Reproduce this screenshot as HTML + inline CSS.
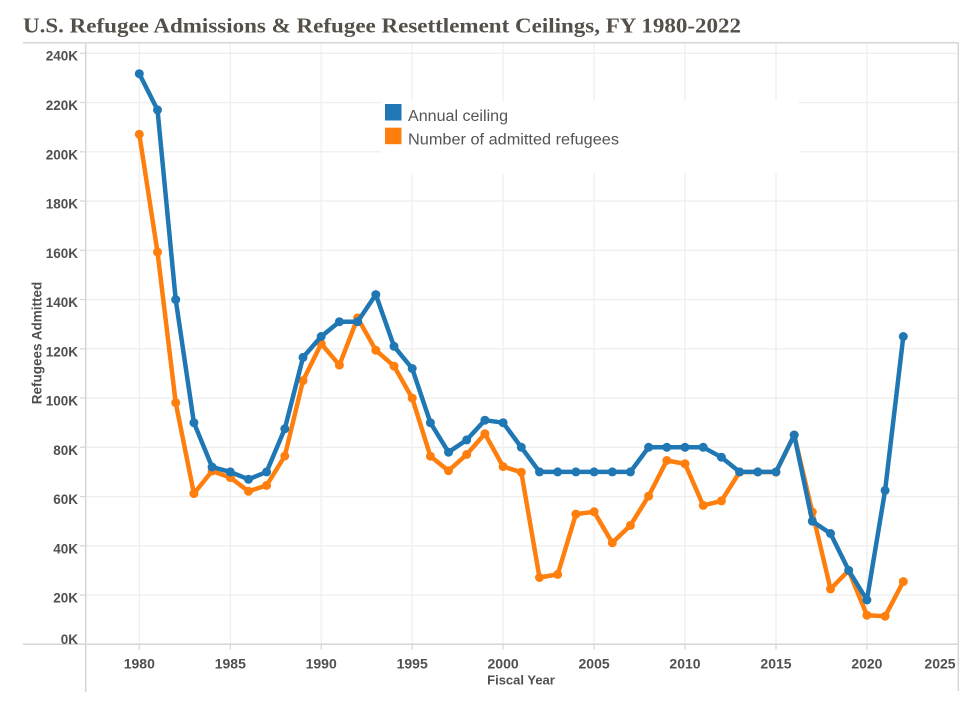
<!DOCTYPE html>
<html>
<head>
<meta charset="utf-8">
<style>
  html, body { margin:0; padding:0; background:#ffffff; }
  body { width:976px; height:701px; overflow:hidden; }
  svg { display:block; }
  .yl { font-family:"Liberation Sans", sans-serif; font-weight:bold; font-size:13.5px; fill:#505050; text-anchor:end; }
  .xl { font-family:"Liberation Sans", sans-serif; font-weight:bold; font-size:14px; fill:#505050; text-anchor:middle; }
  .lg { font-family:"Liberation Sans", sans-serif; font-size:15.5px; fill:#555555; }
</style>
</head>
<body>
<svg width="976" height="701" viewBox="0 0 976 701" xmlns="http://www.w3.org/2000/svg">
  <rect x="0" y="0" width="976" height="701" fill="#ffffff"/>

  <!-- Title -->
  <text x="23" y="32.3" font-family="'Liberation Serif', serif" font-weight="bold" font-size="21" fill="#555049" textLength="718" lengthAdjust="spacingAndGlyphs">U.S. Refugee Admissions &amp; Refugee Resettlement Ceilings, FY 1980-2022</text>

  <!-- horizontal gridlines -->
  <g stroke="#efefef" stroke-width="1.3">
    <line x1="86" y1="53.3" x2="958" y2="53.3"/>
    <line x1="86" y1="102.55" x2="958" y2="102.55"/>
    <line x1="86" y1="151.8" x2="958" y2="151.8"/>
    <line x1="86" y1="201.05" x2="958" y2="201.05"/>
    <line x1="86" y1="250.3" x2="958" y2="250.3"/>
    <line x1="86" y1="299.55" x2="958" y2="299.55"/>
    <line x1="86" y1="348.8" x2="958" y2="348.8"/>
    <line x1="86" y1="398.05" x2="958" y2="398.05"/>
    <line x1="86" y1="447.3" x2="958" y2="447.3"/>
    <line x1="86" y1="496.55" x2="958" y2="496.55"/>
    <line x1="86" y1="545.8" x2="958" y2="545.8"/>
    <line x1="86" y1="595.05" x2="958" y2="595.05"/>
  </g>
  <!-- vertical gridlines -->
  <g stroke="#efefef" stroke-width="1.3">
    <line x1="139.3" y1="43" x2="139.3" y2="644"/>
    <line x1="230.3" y1="43" x2="230.3" y2="644"/>
    <line x1="321.2" y1="43" x2="321.2" y2="644"/>
    <line x1="412.2" y1="43" x2="412.2" y2="644"/>
    <line x1="503.1" y1="43" x2="503.1" y2="644"/>
    <line x1="594.1" y1="43" x2="594.1" y2="644"/>
    <line x1="685.0" y1="43" x2="685.0" y2="644"/>
    <line x1="776.0" y1="43" x2="776.0" y2="644"/>
    <line x1="866.9" y1="43" x2="866.9" y2="644"/>
  </g>

  <!-- legend background (masks gridlines) -->
  <rect x="381" y="101" width="418" height="72" fill="#ffffff"/>

  <!-- frame / axes -->
  <g stroke="#d6d6d6" stroke-width="1.5">
    <line x1="23" y1="42.7" x2="958.5" y2="42.7"/>
    <line x1="23" y1="644.3" x2="958.5" y2="644.3"/>
    <line x1="85.7" y1="42.7" x2="85.7" y2="692"/>
    <line x1="958.3" y1="42.7" x2="958.3" y2="691"/>
  </g>
  <!-- y ticks -->
  <g stroke="#d6d6d6" stroke-width="1.2">
    <line x1="80" y1="53.3" x2="85.7" y2="53.3"/>
    <line x1="80" y1="102.55" x2="85.7" y2="102.55"/>
    <line x1="80" y1="151.8" x2="85.7" y2="151.8"/>
    <line x1="80" y1="201.05" x2="85.7" y2="201.05"/>
    <line x1="80" y1="250.3" x2="85.7" y2="250.3"/>
    <line x1="80" y1="299.55" x2="85.7" y2="299.55"/>
    <line x1="80" y1="348.8" x2="85.7" y2="348.8"/>
    <line x1="80" y1="398.05" x2="85.7" y2="398.05"/>
    <line x1="80" y1="447.3" x2="85.7" y2="447.3"/>
    <line x1="80" y1="496.55" x2="85.7" y2="496.55"/>
    <line x1="80" y1="545.8" x2="85.7" y2="545.8"/>
    <line x1="80" y1="595.05" x2="85.7" y2="595.05"/>
  </g>
  <!-- x ticks -->
  <g stroke="#d6d6d6" stroke-width="1.2">
    <line x1="139.3" y1="644.3" x2="139.3" y2="649.5"/>
    <line x1="230.3" y1="644.3" x2="230.3" y2="649.5"/>
    <line x1="321.2" y1="644.3" x2="321.2" y2="649.5"/>
    <line x1="412.2" y1="644.3" x2="412.2" y2="649.5"/>
    <line x1="503.1" y1="644.3" x2="503.1" y2="649.5"/>
    <line x1="594.1" y1="644.3" x2="594.1" y2="649.5"/>
    <line x1="685.0" y1="644.3" x2="685.0" y2="649.5"/>
    <line x1="776.0" y1="644.3" x2="776.0" y2="649.5"/>
    <line x1="866.9" y1="644.3" x2="866.9" y2="649.5"/>
  </g>

  <!-- y labels -->
  <text class="yl" x="78" y="60.5">240K</text>
  <text class="yl" x="78" y="110">220K</text>
  <text class="yl" x="78" y="159.3">200K</text>
  <text class="yl" x="78" y="208.5">180K</text>
  <text class="yl" x="78" y="257.8">160K</text>
  <text class="yl" x="78" y="307">140K</text>
  <text class="yl" x="78" y="356.3">120K</text>
  <text class="yl" x="78" y="405.5">100K</text>
  <text class="yl" x="78" y="454.8">80K</text>
  <text class="yl" x="78" y="504">60K</text>
  <text class="yl" x="78" y="553.3">40K</text>
  <text class="yl" x="78" y="602.5">20K</text>
  <text class="yl" x="78" y="644">0K</text>

  <!-- x labels -->
  <text class="xl" x="139.3" y="668.3">1980</text>
  <text class="xl" x="230.3" y="668.3">1985</text>
  <text class="xl" x="321.2" y="668.3">1990</text>
  <text class="xl" x="412.2" y="668.3">1995</text>
  <text class="xl" x="503.1" y="668.3">2000</text>
  <text class="xl" x="594.1" y="668.3">2005</text>
  <text class="xl" x="685.0" y="668.3">2010</text>
  <text class="xl" x="776.0" y="668.3">2015</text>
  <text class="xl" x="866.9" y="668.3">2020</text>
  <text class="xl" x="940" y="668.3">2025</text>

  <!-- axis titles -->
  <text x="521" y="684.5" font-family="'Liberation Sans', sans-serif" font-weight="bold" font-size="13" fill="#505050" text-anchor="middle">Fiscal Year</text>
  <text transform="translate(41.5,343) rotate(-90)" x="0" y="0" font-family="'Liberation Sans', sans-serif" font-weight="bold" font-size="13.5" fill="#505050" text-anchor="middle">Refugees Admitted</text>

  <!-- Orange: admitted refugees -->
  <g fill="#ff7f0e">
    <polyline fill="none" stroke="#ff7f0e" stroke-width="4.5" stroke-linejoin="round" stroke-linecap="round" points="139.3,134.3 157.5,252.1 175.7,402.7 193.9,493.6 212.1,471.0 230.3,477.6 248.5,491.3 266.6,485.4 284.8,456.0 303.0,380.6 321.2,343.7 339.4,365.1 357.6,317.9 375.8,350.2 394.0,366.1 412.2,398.1 430.4,456.2 448.5,470.7 466.7,454.5 484.9,433.7 503.1,466.6 521.3,472.2 539.5,577.5 557.7,574.4 575.9,514.1 594.1,511.8 612.3,542.8 630.4,525.4 648.6,496.1 666.8,460.5 685.0,463.8 703.2,505.4 721.4,500.9 739.6,472.1 757.8,472.0 776.0,472.1 794.2,435.0 812.3,512.0 830.5,588.9 848.7,570.6 866.9,615.2 885.1,616.2 903.3,581.6"/>
    <circle cx="139.3" cy="134.3" r="4.5"/><circle cx="157.5" cy="252.1" r="4.5"/><circle cx="175.7" cy="402.7" r="4.5"/><circle cx="193.9" cy="493.6" r="4.5"/><circle cx="212.1" cy="471.0" r="4.5"/><circle cx="230.3" cy="477.6" r="4.5"/><circle cx="248.5" cy="491.3" r="4.5"/><circle cx="266.6" cy="485.4" r="4.5"/><circle cx="284.8" cy="456.0" r="4.5"/><circle cx="303.0" cy="380.6" r="4.5"/><circle cx="321.2" cy="343.7" r="4.5"/><circle cx="339.4" cy="365.1" r="4.5"/><circle cx="357.6" cy="317.9" r="4.5"/><circle cx="375.8" cy="350.2" r="4.5"/><circle cx="394.0" cy="366.1" r="4.5"/><circle cx="412.2" cy="398.1" r="4.5"/><circle cx="430.4" cy="456.2" r="4.5"/><circle cx="448.5" cy="470.7" r="4.5"/><circle cx="466.7" cy="454.5" r="4.5"/><circle cx="484.9" cy="433.7" r="4.5"/><circle cx="503.1" cy="466.6" r="4.5"/><circle cx="521.3" cy="472.2" r="4.5"/><circle cx="539.5" cy="577.5" r="4.5"/><circle cx="557.7" cy="574.4" r="4.5"/><circle cx="575.9" cy="514.1" r="4.5"/><circle cx="594.1" cy="511.8" r="4.5"/><circle cx="612.3" cy="542.8" r="4.5"/><circle cx="630.4" cy="525.4" r="4.5"/><circle cx="648.6" cy="496.1" r="4.5"/><circle cx="666.8" cy="460.5" r="4.5"/><circle cx="685.0" cy="463.8" r="4.5"/><circle cx="703.2" cy="505.4" r="4.5"/><circle cx="721.4" cy="500.9" r="4.5"/><circle cx="739.6" cy="472.1" r="4.5"/><circle cx="757.8" cy="472.0" r="4.5"/><circle cx="776.0" cy="472.1" r="4.5"/><circle cx="794.2" cy="435.0" r="4.5"/><circle cx="812.3" cy="512.0" r="4.5"/><circle cx="830.5" cy="588.9" r="4.5"/><circle cx="848.7" cy="570.6" r="4.5"/><circle cx="866.9" cy="615.2" r="4.5"/><circle cx="885.1" cy="616.2" r="4.5"/><circle cx="903.3" cy="581.6" r="4.5"/>
  </g>

  <!-- Blue: annual ceiling -->
  <g fill="#1f77b4">
    <polyline fill="none" stroke="#1f77b4" stroke-width="4.5" stroke-linejoin="round" stroke-linecap="round" points="139.3,73.7 157.5,109.9 175.7,299.6 193.9,422.7 212.1,467.0 230.3,471.9 248.5,479.3 266.6,471.9 284.8,428.8 303.0,357.4 321.2,336.5 339.4,321.7 357.6,321.7 375.8,294.6 394.0,346.3 412.2,368.5 430.4,422.7 448.5,452.2 466.7,439.9 484.9,420.2 503.1,422.7 521.3,447.3 539.5,471.9 557.7,471.9 575.9,471.9 594.1,471.9 612.3,471.9 630.4,471.9 648.6,447.3 666.8,447.3 685.0,447.3 703.2,447.3 721.4,457.2 739.6,471.9 757.8,471.9 776.0,471.9 794.2,435.0 812.3,521.2 830.5,533.5 848.7,570.4 866.9,600.0 885.1,490.4 903.3,336.5"/>
    <circle cx="139.3" cy="73.7" r="4.5"/><circle cx="157.5" cy="109.9" r="4.5"/><circle cx="175.7" cy="299.6" r="4.5"/><circle cx="193.9" cy="422.7" r="4.5"/><circle cx="212.1" cy="467.0" r="4.5"/><circle cx="230.3" cy="471.9" r="4.5"/><circle cx="248.5" cy="479.3" r="4.5"/><circle cx="266.6" cy="471.9" r="4.5"/><circle cx="284.8" cy="428.8" r="4.5"/><circle cx="303.0" cy="357.4" r="4.5"/><circle cx="321.2" cy="336.5" r="4.5"/><circle cx="339.4" cy="321.7" r="4.5"/><circle cx="357.6" cy="321.7" r="4.5"/><circle cx="375.8" cy="294.6" r="4.5"/><circle cx="394.0" cy="346.3" r="4.5"/><circle cx="412.2" cy="368.5" r="4.5"/><circle cx="430.4" cy="422.7" r="4.5"/><circle cx="448.5" cy="452.2" r="4.5"/><circle cx="466.7" cy="439.9" r="4.5"/><circle cx="484.9" cy="420.2" r="4.5"/><circle cx="503.1" cy="422.7" r="4.5"/><circle cx="521.3" cy="447.3" r="4.5"/><circle cx="539.5" cy="471.9" r="4.5"/><circle cx="557.7" cy="471.9" r="4.5"/><circle cx="575.9" cy="471.9" r="4.5"/><circle cx="594.1" cy="471.9" r="4.5"/><circle cx="612.3" cy="471.9" r="4.5"/><circle cx="630.4" cy="471.9" r="4.5"/><circle cx="648.6" cy="447.3" r="4.5"/><circle cx="666.8" cy="447.3" r="4.5"/><circle cx="685.0" cy="447.3" r="4.5"/><circle cx="703.2" cy="447.3" r="4.5"/><circle cx="721.4" cy="457.2" r="4.5"/><circle cx="739.6" cy="471.9" r="4.5"/><circle cx="757.8" cy="471.9" r="4.5"/><circle cx="776.0" cy="471.9" r="4.5"/><circle cx="794.2" cy="435.0" r="4.5"/><circle cx="812.3" cy="521.2" r="4.5"/><circle cx="830.5" cy="533.5" r="4.5"/><circle cx="848.7" cy="570.4" r="4.5"/><circle cx="866.9" cy="600.0" r="4.5"/><circle cx="885.1" cy="490.4" r="4.5"/><circle cx="903.3" cy="336.5" r="4.5"/>
  </g>

  <!-- Legend -->
  <rect x="385" y="104" width="16.5" height="16.5" fill="#1f77b4"/>
  <rect x="385" y="127.7" width="16.5" height="16.5" fill="#ff7f0e"/>
  <text class="lg" x="408" y="121" textLength="100" lengthAdjust="spacingAndGlyphs">Annual ceiling</text>
  <text class="lg" x="408" y="144.7" textLength="211" lengthAdjust="spacingAndGlyphs">Number of admitted refugees</text>
</svg>
</body>
</html>
